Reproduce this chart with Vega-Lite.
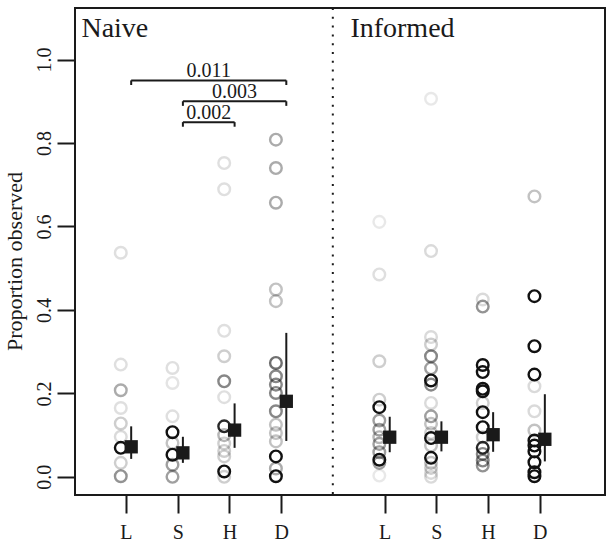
{
  "$schema": "https://vega.github.io/schema/vega-lite/v6.json",
  "width": 530,
  "height": 487,
  "autosize": {"type": "none"},
  "padding": {"left": 75, "top": 8, "right": 9, "bottom": 51},
  "config": {
    "font": "Liberation Serif",
    "view": {"stroke": "#1a1a1a", "strokeWidth": 2}
  },
  "datasets": {
    "pts": [
      {"grp": "Naive", "pos": 1, "y": 0.537, "w": 0.13},
      {"grp": "Naive", "pos": 1, "y": 0.269, "w": 0.13},
      {"grp": "Naive", "pos": 1, "y": 0.2075, "w": 0.35},
      {"grp": "Naive", "pos": 1, "y": 0.165, "w": 0.13},
      {"grp": "Naive", "pos": 1, "y": 0.128, "w": 0.2},
      {"grp": "Naive", "pos": 1, "y": 0.096, "w": 0.15},
      {"grp": "Naive", "pos": 1, "y": 0.0335, "w": 0.2},
      {"grp": "Naive", "pos": 1, "y": 0.0015, "w": 0.45},
      {"grp": "Naive", "pos": 1, "y": 0.0695, "w": 1.0},
      {"grp": "Naive", "pos": 2, "y": 0.261, "w": 0.13},
      {"grp": "Naive", "pos": 2, "y": 0.225, "w": 0.11},
      {"grp": "Naive", "pos": 2, "y": 0.145, "w": 0.13},
      {"grp": "Naive", "pos": 2, "y": 0.081, "w": 0.25},
      {"grp": "Naive", "pos": 2, "y": 0.029, "w": 0.4},
      {"grp": "Naive", "pos": 2, "y": 0.0, "w": 0.4},
      {"grp": "Naive", "pos": 2, "y": 0.107, "w": 1.0},
      {"grp": "Naive", "pos": 2, "y": 0.053, "w": 1.0},
      {"grp": "Naive", "pos": 3, "y": 0.752, "w": 0.13},
      {"grp": "Naive", "pos": 3, "y": 0.689, "w": 0.13},
      {"grp": "Naive", "pos": 3, "y": 0.35, "w": 0.13},
      {"grp": "Naive", "pos": 3, "y": 0.289, "w": 0.2},
      {"grp": "Naive", "pos": 3, "y": 0.229, "w": 0.5},
      {"grp": "Naive", "pos": 3, "y": 0.191, "w": 0.13},
      {"grp": "Naive", "pos": 3, "y": 0.1, "w": 0.3},
      {"grp": "Naive", "pos": 3, "y": 0.08, "w": 0.2},
      {"grp": "Naive", "pos": 3, "y": 0.062, "w": 0.2},
      {"grp": "Naive", "pos": 3, "y": 0.049, "w": 0.2},
      {"grp": "Naive", "pos": 3, "y": 0.0, "w": 0.2},
      {"grp": "Naive", "pos": 3, "y": 0.121, "w": 0.9},
      {"grp": "Naive", "pos": 3, "y": 0.013, "w": 1.0},
      {"grp": "Naive", "pos": 4, "y": 0.808, "w": 0.35},
      {"grp": "Naive", "pos": 4, "y": 0.74, "w": 0.35},
      {"grp": "Naive", "pos": 4, "y": 0.657, "w": 0.35},
      {"grp": "Naive", "pos": 4, "y": 0.449, "w": 0.25},
      {"grp": "Naive", "pos": 4, "y": 0.421, "w": 0.25},
      {"grp": "Naive", "pos": 4, "y": 0.273, "w": 0.6},
      {"grp": "Naive", "pos": 4, "y": 0.241, "w": 0.5},
      {"grp": "Naive", "pos": 4, "y": 0.221, "w": 0.5},
      {"grp": "Naive", "pos": 4, "y": 0.201, "w": 0.5},
      {"grp": "Naive", "pos": 4, "y": 0.157, "w": 0.5},
      {"grp": "Naive", "pos": 4, "y": 0.125, "w": 0.25},
      {"grp": "Naive", "pos": 4, "y": 0.105, "w": 0.25},
      {"grp": "Naive", "pos": 4, "y": 0.085, "w": 0.25},
      {"grp": "Naive", "pos": 4, "y": 0.02, "w": 0.35},
      {"grp": "Naive", "pos": 4, "y": 0.049, "w": 1.0},
      {"grp": "Naive", "pos": 4, "y": 0.0015, "w": 1.0},
      {"grp": "Informed", "pos": 6, "y": 0.611, "w": 0.09},
      {"grp": "Informed", "pos": 6, "y": 0.485, "w": 0.13},
      {"grp": "Informed", "pos": 6, "y": 0.277, "w": 0.2},
      {"grp": "Informed", "pos": 6, "y": 0.185, "w": 0.2},
      {"grp": "Informed", "pos": 6, "y": 0.135, "w": 0.4},
      {"grp": "Informed", "pos": 6, "y": 0.113, "w": 0.4},
      {"grp": "Informed", "pos": 6, "y": 0.095, "w": 0.3},
      {"grp": "Informed", "pos": 6, "y": 0.079, "w": 0.4},
      {"grp": "Informed", "pos": 6, "y": 0.059, "w": 0.4},
      {"grp": "Informed", "pos": 6, "y": 0.0335, "w": 0.4},
      {"grp": "Informed", "pos": 6, "y": 0.003, "w": 0.09},
      {"grp": "Informed", "pos": 6, "y": 0.167, "w": 1.0},
      {"grp": "Informed", "pos": 6, "y": 0.041, "w": 1.0},
      {"grp": "Informed", "pos": 7, "y": 0.906, "w": 0.09},
      {"grp": "Informed", "pos": 7, "y": 0.541, "w": 0.15},
      {"grp": "Informed", "pos": 7, "y": 0.335, "w": 0.15},
      {"grp": "Informed", "pos": 7, "y": 0.317, "w": 0.2},
      {"grp": "Informed", "pos": 7, "y": 0.289, "w": 0.5},
      {"grp": "Informed", "pos": 7, "y": 0.26, "w": 0.4},
      {"grp": "Informed", "pos": 7, "y": 0.221, "w": 0.5},
      {"grp": "Informed", "pos": 7, "y": 0.177, "w": 0.15},
      {"grp": "Informed", "pos": 7, "y": 0.145, "w": 0.4},
      {"grp": "Informed", "pos": 7, "y": 0.127, "w": 0.25},
      {"grp": "Informed", "pos": 7, "y": 0.105, "w": 0.2},
      {"grp": "Informed", "pos": 7, "y": 0.075, "w": 0.25},
      {"grp": "Informed", "pos": 7, "y": 0.0335, "w": 0.25},
      {"grp": "Informed", "pos": 7, "y": 0.0215, "w": 0.2},
      {"grp": "Informed", "pos": 7, "y": 0.0095, "w": 0.15},
      {"grp": "Informed", "pos": 7, "y": 0.0, "w": 0.15},
      {"grp": "Informed", "pos": 7, "y": 0.231, "w": 1.0},
      {"grp": "Informed", "pos": 7, "y": 0.093, "w": 1.0},
      {"grp": "Informed", "pos": 7, "y": 0.0455, "w": 1.0},
      {"grp": "Informed", "pos": 8, "y": 0.425, "w": 0.15},
      {"grp": "Informed", "pos": 8, "y": 0.408, "w": 0.45},
      {"grp": "Informed", "pos": 8, "y": 0.177, "w": 0.2},
      {"grp": "Informed", "pos": 8, "y": 0.095, "w": 0.2},
      {"grp": "Informed", "pos": 8, "y": 0.055, "w": 0.5},
      {"grp": "Informed", "pos": 8, "y": 0.039, "w": 0.5},
      {"grp": "Informed", "pos": 8, "y": 0.027, "w": 0.45},
      {"grp": "Informed", "pos": 8, "y": 0.268, "w": 1.0},
      {"grp": "Informed", "pos": 8, "y": 0.251, "w": 1.0},
      {"grp": "Informed", "pos": 8, "y": 0.211, "w": 1.0},
      {"grp": "Informed", "pos": 8, "y": 0.205, "w": 1.0},
      {"grp": "Informed", "pos": 8, "y": 0.155, "w": 1.0},
      {"grp": "Informed", "pos": 8, "y": 0.119, "w": 1.0},
      {"grp": "Informed", "pos": 8, "y": 0.0695, "w": 0.9},
      {"grp": "Informed", "pos": 9, "y": 0.672, "w": 0.25},
      {"grp": "Informed", "pos": 9, "y": 0.217, "w": 0.15},
      {"grp": "Informed", "pos": 9, "y": 0.157, "w": 0.15},
      {"grp": "Informed", "pos": 9, "y": 0.111, "w": 0.25},
      {"grp": "Informed", "pos": 9, "y": 0.433, "w": 1.0},
      {"grp": "Informed", "pos": 9, "y": 0.313, "w": 1.0},
      {"grp": "Informed", "pos": 9, "y": 0.245, "w": 1.0},
      {"grp": "Informed", "pos": 9, "y": 0.087, "w": 1.0},
      {"grp": "Informed", "pos": 9, "y": 0.075, "w": 1.0},
      {"grp": "Informed", "pos": 9, "y": 0.061, "w": 1.0},
      {"grp": "Informed", "pos": 9, "y": 0.035, "w": 1.0},
      {"grp": "Informed", "pos": 9, "y": 0.011, "w": 1.0},
      {"grp": "Informed", "pos": 9, "y": 0.0015, "w": 1.0}
    ],
    "means": [
      {"pos": 1, "mean": 0.072, "lo": 0.043, "hi": 0.121},
      {"pos": 2, "mean": 0.0575, "lo": 0.0335, "hi": 0.096},
      {"pos": 3, "mean": 0.112, "lo": 0.0695, "hi": 0.176},
      {"pos": 4, "mean": 0.181, "lo": 0.086, "hi": 0.345},
      {"pos": 6, "mean": 0.095, "lo": 0.059, "hi": 0.144},
      {"pos": 7, "mean": 0.095, "lo": 0.061, "hi": 0.133},
      {"pos": 8, "mean": 0.101, "lo": 0.06, "hi": 0.155},
      {"pos": 9, "mean": 0.09, "lo": 0.037, "hi": 0.198}
    ],
    "brackets": [
      {"a": 1, "b": 4, "mid": 2.5, "y": 0.95, "yend": 0.939, "p": "0.011"},
      {"a": 2, "b": 4, "mid": 3.0, "y": 0.9, "yend": 0.889, "p": "0.003"},
      {"a": 2, "b": 3, "mid": 2.5, "y": 0.85, "yend": 0.839, "p": "0.002"}
    ],
    "panels": [
      {"x": 0.138, "y": 1.055, "label": "Naive"},
      {"x": 5.34, "y": 1.055, "label": "Informed"}
    ],
    "sep": [{"x": 5}]
  },
  "layer": [
    {
      "data": {"name": "sep"},
      "mark": {"type": "rule", "color": "#1a1a1a", "strokeWidth": 2, "strokeDash": [2, 6.8]},
      "encoding": {
        "x": {
          "field": "x", "type": "quantitative",
          "scale": {"domain": [0.014, 10.264], "nice": false, "zero": false},
          "axis": {
            "values": [1, 2, 3, 4, 6, 7, 8, 9],
            "labelExpr": "['','L','S','H','D','','L','S','H','D'][datum.value]",
            "title": null, "domain": false, "grid": false,
            "tickSize": 18, "tickWidth": 2, "tickColor": "#1a1a1a",
            "labelFontSize": 20, "labelColor": "#1a1a1a", "labelPadding": 25,
            "labelBaseline": "alphabetic", "labelFont": "Liberation Serif"
          }
        }
      }
    },
    {
      "data": {"name": "pts"},
      "mark": {"type": "point", "shape": "circle", "filled": false, "size": 135, "strokeWidth": 2.4, "color": "#111111", "xOffset": -5.2},
      "encoding": {
        "x": {"field": "pos", "type": "quantitative"},
        "y": {
          "field": "y", "type": "quantitative",
          "scale": {"domain": [-0.0435, 1.1235], "nice": false, "zero": false},
          "axis": {
            "values": [0, 0.2, 0.4, 0.6, 0.8, 1.0], "format": ".1f",
            "title": "Proportion observed", "domain": false, "grid": false,
            "tickSize": 18, "tickWidth": 2, "tickColor": "#1a1a1a",
            "labelFontSize": 20, "labelColor": "#1a1a1a", "labelAngle": 270,
            "labelAlign": "center", "labelBaseline": "alphabetic", "labelPadding": 7,
            "labelFont": "Liberation Serif",
            "titleFont": "Liberation Serif", "titleFontSize": 22, "titleFontWeight": "normal",
            "titleColor": "#1a1a1a", "titleAngle": 270, "titleAlign": "center",
            "titleBaseline": "alphabetic", "titleX": -54, "titleY": 253
          }
        },
        "opacity": {"field": "w", "type": "quantitative", "scale": {"domain": [0, 1], "range": [0, 1]}, "legend": null}
      }
    },
    {
      "data": {"name": "means"},
      "mark": {"type": "rule", "color": "#1a1a1a", "strokeWidth": 2, "xOffset": 5.2},
      "encoding": {
        "x": {"field": "pos", "type": "quantitative"},
        "y": {"field": "lo", "type": "quantitative"},
        "y2": {"field": "hi"}
      }
    },
    {
      "data": {"name": "means"},
      "mark": {"type": "point", "shape": "square", "filled": true, "size": 177, "color": "#1a1a1a", "opacity": 1, "xOffset": 5.2},
      "encoding": {
        "x": {"field": "pos", "type": "quantitative"},
        "y": {"field": "mean", "type": "quantitative"}
      }
    },
    {
      "data": {"name": "brackets"},
      "mark": {"type": "rule", "color": "#1a1a1a", "strokeWidth": 2, "xOffset": 5.2, "x2Offset": 5.2},
      "encoding": {
        "x": {"field": "a", "type": "quantitative"},
        "x2": {"field": "b"},
        "y": {"field": "y", "type": "quantitative"}
      }
    },
    {
      "data": {"name": "brackets"},
      "transform": [{"fold": ["a", "b"], "as": ["end", "xe"]}],
      "mark": {"type": "rule", "color": "#1a1a1a", "strokeWidth": 2, "xOffset": 5.2},
      "encoding": {
        "x": {"field": "xe", "type": "quantitative"},
        "y": {"field": "y", "type": "quantitative"},
        "y2": {"field": "yend"}
      }
    },
    {
      "data": {"name": "brackets"},
      "mark": {"type": "text", "font": "Liberation Serif", "fontSize": 20, "color": "#1a1a1a", "baseline": "alphabetic", "align": "center", "dy": -3.5, "xOffset": 5.2},
      "encoding": {
        "x": {"field": "mid", "type": "quantitative"},
        "y": {"field": "y", "type": "quantitative"},
        "text": {"field": "p"}
      }
    },
    {
      "data": {"name": "panels"},
      "mark": {"type": "text", "font": "Liberation Serif", "fontSize": 28, "color": "#1a1a1a", "baseline": "alphabetic", "align": "left"},
      "encoding": {
        "x": {"field": "x", "type": "quantitative"},
        "y": {"field": "y", "type": "quantitative"},
        "text": {"field": "label"}
      }
    }
  ]
}
